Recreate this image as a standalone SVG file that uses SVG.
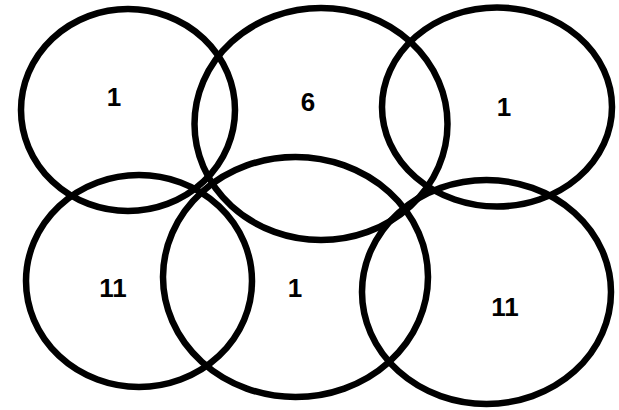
<svg xmlns="http://www.w3.org/2000/svg" width="619" height="410" viewBox="0 0 619 410">
<style>
.c{fill:none;stroke:#000;stroke-width:6.5}
.t{font-family:"Liberation Sans",Arial,sans-serif;font-weight:bold;font-size:26px;fill:#000;text-anchor:middle}
</style>
<rect width="619" height="410" fill="#fff"/>
<g id="n1"><ellipse class="c" cx="128" cy="110" rx="107" ry="101"/><text class="t" x="114" y="106">1</text></g>
<g id="n2"><ellipse class="c" cx="321" cy="124" rx="126.5" ry="116"/><text class="t" x="308" y="111">6</text></g>
<g id="n3"><ellipse class="c" cx="497" cy="107" rx="115" ry="99.5"/><text class="t" x="504" y="116">1</text></g>
<g id="n4"><ellipse class="c" cx="139" cy="281" rx="113" ry="106"/><text class="t" x="113" y="297">11</text></g>
<g id="n5"><ellipse class="c" cx="295.5" cy="277" rx="132.5" ry="120"/><text class="t" x="295" y="297">1</text></g>
<g id="n6"><ellipse class="c" cx="486.5" cy="292" rx="124.5" ry="112"/><text class="t" x="505" y="316">11</text></g>
<g id="connectors"></g>
</svg>
